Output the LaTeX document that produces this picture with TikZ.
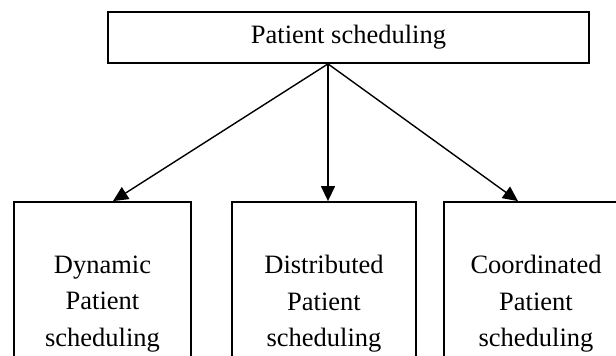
\documentclass[tikz,border=0pt]{standalone}
\usepackage{fontspec}
\setmainfont{Liberation Serif}
\usetikzlibrary{arrows.meta}

\begin{document}
\begin{tikzpicture}[x=0.5pt,y=-0.5pt,
		->,
		>={Triangle[length=7.5pt,width=7pt]},
		line width=0.7pt,
		font=\fontsize{13.25}{18.25}\selectfont,
		topnode/.style={rectangle,draw,line width=0.9pt,minimum width=240.5pt,minimum height=25.5pt,inner sep=0pt},
		leafnode/.style={rectangle,draw,line width=0.9pt,minimum width=92pt,minimum height=102pt,inner sep=0pt,align=center}]
		\clip (0,0) rectangle (616,356);
		\node[topnode] (root) at (348.5, 37.5) {Patient scheduling};
		
		\node[leafnode,minimum width=88.5pt] (dyn) at (102.5, 304) {Dynamic\\Patient\\scheduling};
		\node[leafnode] (dist) at (324, 304) {Distributed\\Patient\\scheduling};
		\node[leafnode] (coord) at (536, 304) {Coordinated\\Patient\\scheduling};
		
		\draw ([xshift=-10.25pt]root.south) -- ([xshift=5.25pt]dyn.north);
		\draw ([xshift=-10.25pt]root.south) -- ([xshift=2pt]dist.north);
		\draw ([xshift=-10.25pt]root.south) -- ([xshift=-9pt]coord.north);
	\end{tikzpicture}
\end{document}
